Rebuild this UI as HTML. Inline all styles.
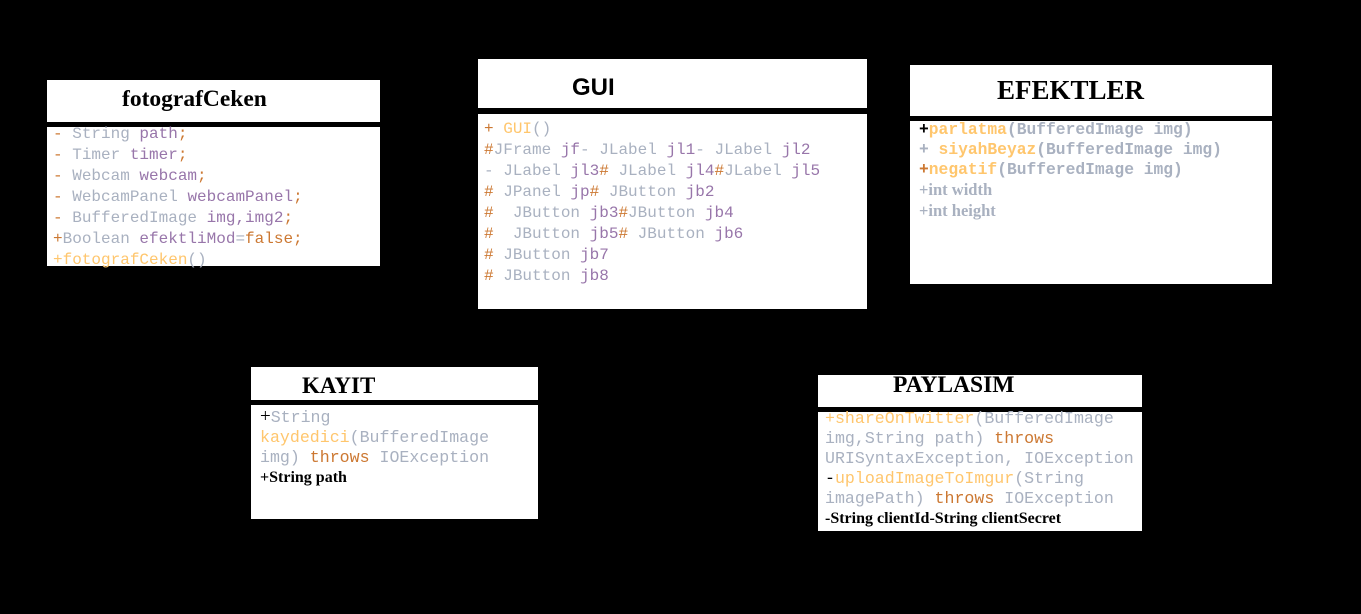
<!DOCTYPE html><html><head><meta charset="utf-8"><style>
body{margin:0;width:1361px;height:614px;background:#000;position:relative;overflow:hidden;font-family:"Liberation Mono",monospace;}
.b{position:absolute;background:#fff;}
.h{position:absolute;font-family:"Liberation Serif",serif;font-weight:bold;color:#000;white-space:nowrap;}
.t{position:absolute;font-size:16px;line-height:21px;white-space:pre;color:#a9b1c0;}
.g{color:#a9b1c0}.p{color:#9876aa}.o{color:#cc7832}.y{color:#ffc66d}.k{color:#000}
.s{font-family:"Liberation Serif",serif;font-weight:bold;}
</style></head><body>
<div class="b" style="left:47px;top:80px;width:333px;height:42px"></div>
<div class="h" style="left:122px;top:86px;font-size:23.5px">fotografCeken</div>
<div class="b" style="left:47px;top:127px;width:333px;height:139px"></div>
<div class="t" style="left:53px;top:124px"><span class="o">-</span> String <span class="p">path</span><span class="o">;</span>
<span class="o">-</span> Timer <span class="p">timer</span><span class="o">;</span>
<span class="o">-</span> Webcam <span class="p">webcam</span><span class="o">;</span>
<span class="o">-</span> WebcamPanel <span class="p">webcamPanel</span><span class="o">;</span>
<span class="o">-</span> BufferedImage <span class="p">img,img2</span><span class="o">;</span>
<span class="o">+</span>Boolean <span class="p">efektliMod</span>=<span class="o">false;</span>
<span class="y">+fotografCeken</span>()</div>

<div class="b" style="left:478px;top:59px;width:389px;height:49px"></div>
<div class="h" style="left:572px;top:74px;font-size:24px;font-family:'Liberation Sans',sans-serif">GUI</div>
<div class="b" style="left:478px;top:114px;width:389px;height:195px"></div>
<div class="t" style="left:484px;top:119px"><span class="o">+</span> <span class="y">GUI</span>()
<span class="o">#</span>JFrame <span class="p">jf</span>- JLabel <span class="p">jl1</span>- JLabel <span class="p">jl2</span>
- JLabel <span class="p">jl3</span><span class="o">#</span> JLabel <span class="p">jl4</span><span class="o">#</span>JLabel <span class="p">jl5</span>
<span class="o">#</span> JPanel <span class="p">jp</span><span class="o">#</span> JButton <span class="p">jb2</span>
<span class="o">#</span>  JButton <span class="p">jb3</span><span class="o">#</span>JButton <span class="p">jb4</span>
<span class="o">#</span>  JButton <span class="p">jb5</span><span class="o">#</span> JButton <span class="p">jb6</span>
<span class="o">#</span> JButton <span class="p">jb7</span>
<span class="o">#</span> JButton <span class="p">jb8</span></div>

<div class="b" style="left:910px;top:65px;width:362px;height:51px"></div>
<div class="h" style="left:997px;top:75px;font-size:27px">EFEKTLER</div>
<div class="b" style="left:910px;top:121px;width:362px;height:163px"></div>
<div class="t" style="left:919px;top:120px;line-height:20px;font-weight:bold;font-size:16.3px"><span class="k">+</span><span class="y">parlatma</span>(BufferedImage img)
+ <span class="y">siyahBeyaz</span>(BufferedImage img)
<span class="o">+</span><span class="y">negatif</span>(BufferedImage img)
<span class="s" style="font-size:16.5px">+int width</span>
<span class="s" style="font-size:16.5px">+int height</span></div>

<div class="b" style="left:251px;top:367px;width:287px;height:33px"></div>
<div class="h" style="left:302px;top:373px;font-size:23px">KAYIT</div>
<div class="b" style="left:251px;top:405px;width:287px;height:114px"></div>
<div class="t" style="left:260px;top:407px;line-height:20px;font-size:16.6px"><span class="k" style="font-family:'Liberation Serif',serif;font-size:19px">+</span>String
<span class="y">kaydedici</span>(BufferedImage
img) <span class="o">throws</span> IOException
<span class="s k" style="font-size:16px">+String path</span></div>

<div class="b" style="left:818px;top:375px;width:324px;height:32px"></div>
<div class="h" style="left:893px;top:372px;font-size:23.5px">PAYLASIM</div>
<div class="b" style="left:818px;top:412px;width:324px;height:119px"></div>
<div class="t" style="left:825px;top:409px;line-height:20px;font-size:16.6px"><span class="y">+shareOnTwitter</span>(BufferedImage
img,String path) <span class="o">throws</span>
URISyntaxException, IOException
<span class="k">-</span><span class="y">uploadImageToImgur</span>(String
imagePath) <span class="o">throws</span> IOException
<span class="s k" style="font-size:16px">-String clientId-String clientSecret</span></div>
</body></html>
